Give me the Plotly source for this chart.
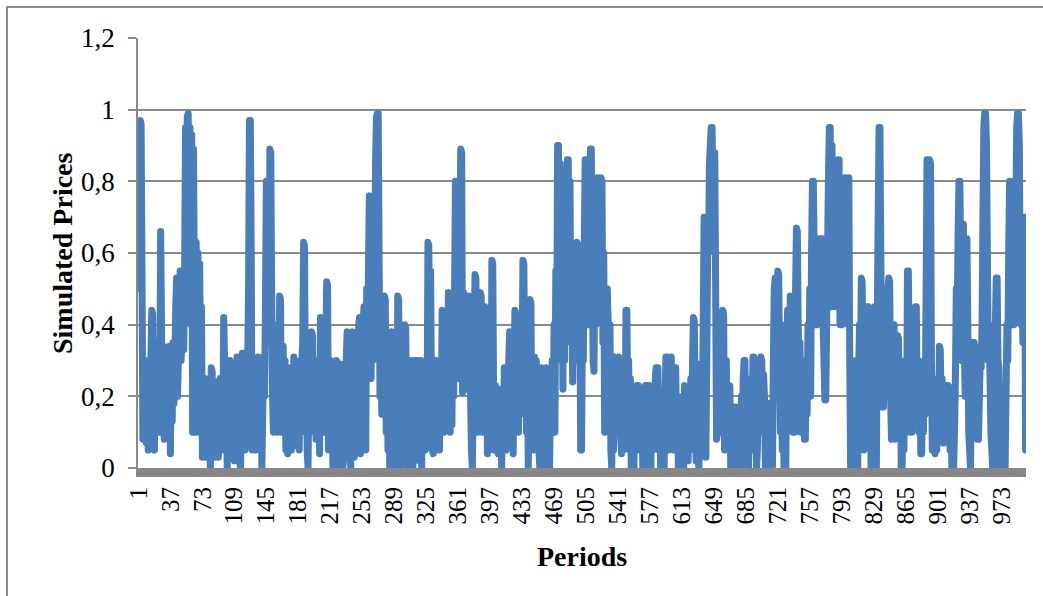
import plotly.graph_objects as go

# Simulated price path, one value per period (36 periods per row)
simulated_prices = [
    0.50, 0.78, 0.97, 0.96, 0.55, 0.08, 0.25, 0.10, 0.30, 0.07, 0.20, 0.05, 0.15, 0.06, 0.30, 0.44, 0.43, 0.20, 0.05, 0.30, 0.10, 0.35, 0.15, 0.10, 0.20, 0.66, 0.40, 0.10, 0.34, 0.08, 0.30, 0.12, 0.33, 0.10, 0.28, 0.34,
    0.04, 0.30, 0.13, 0.35, 0.18, 0.30, 0.45, 0.53, 0.20, 0.30, 0.32, 0.55, 0.30, 0.35, 0.52, 0.33, 0.55, 0.95, 0.50, 0.98, 0.99, 0.75, 0.95, 0.40, 0.93, 0.10, 0.89, 0.50, 0.10, 0.63, 0.30, 0.60, 0.10, 0.57, 0.20, 0.45,
    0.03, 0.20, 0.05, 0.25, 0.03, 0.18, 0.05, 0.22, 0.25, 0.00, 0.28, 0.27, 0.05, 0.20, 0.03, 0.24, 0.08, 0.20, 0.03, 0.22, 0.25, 0.05, 0.22, 0.10, 0.42, 0.30, 0.05, 0.15, 0.00, 0.28, 0.05, 0.30, 0.08, 0.28, 0.03, 0.20,
    0.02, 0.29, 0.05, 0.31, 0.25, 0.10, 0.02, 0.00, 0.22, 0.32, 0.08, 0.30, 0.05, 0.28, 0.10, 0.30, 0.50, 0.97, 0.97, 0.60, 0.05, 0.30, 0.06, 0.25, 0.05, 0.30, 0.10, 0.31, 0.20, 0.05, 0.30, 0.00, 0.15, 0.31, 0.20, 0.45,
    0.80, 0.50, 0.70, 0.35, 0.89, 0.88, 0.50, 0.20, 0.10, 0.30, 0.12, 0.40, 0.10, 0.35, 0.15, 0.48, 0.47, 0.10, 0.30, 0.34, 0.15, 0.30, 0.05, 0.25, 0.04, 0.28, 0.10, 0.25, 0.05, 0.20, 0.06, 0.31, 0.15, 0.30, 0.08, 0.20,
    0.25, 0.05, 0.28, 0.10, 0.30, 0.35, 0.63, 0.62, 0.20, 0.30, 0.05, 0.00, 0.25, 0.10, 0.30, 0.38, 0.37, 0.12, 0.30, 0.28, 0.08, 0.25, 0.10, 0.30, 0.04, 0.42, 0.40, 0.15, 0.30, 0.10, 0.28, 0.35, 0.52, 0.51, 0.05, 0.30,
    0.30, 0.05, 0.20, 0.00, 0.00, 0.25, 0.08, 0.30, 0.29, 0.00, 0.20, 0.05, 0.29, 0.28, 0.00, 0.02, 0.25, 0.10, 0.30, 0.38, 0.37, 0.10, 0.30, 0.00, 0.20, 0.38, 0.37, 0.03, 0.30, 0.05, 0.35, 0.10, 0.40, 0.42, 0.04, 0.35,
    0.10, 0.40, 0.45, 0.44, 0.05, 0.50, 0.30, 0.55, 0.76, 0.75, 0.25, 0.50, 0.30, 0.70, 0.40, 0.85, 0.98, 0.99, 0.99, 0.60, 0.20, 0.45, 0.15, 0.40, 0.20, 0.48, 0.47, 0.10, 0.35, 0.05, 0.30, 0.00, 0.25, 0.38, 0.30, 0.00,
    0.10, 0.00, 0.30, 0.10, 0.48, 0.47, 0.20, 0.30, 0.00, 0.25, 0.10, 0.30, 0.40, 0.39, 0.15, 0.25, 0.00, 0.20, 0.05, 0.30, 0.29, 0.00, 0.15, 0.30, 0.05, 0.28, 0.10, 0.30, 0.02, 0.25, 0.30, 0.00, 0.20, 0.05, 0.25, 0.05,
    0.30, 0.10, 0.63, 0.62, 0.30, 0.55, 0.20, 0.05, 0.04, 0.25, 0.10, 0.30, 0.28, 0.06, 0.20, 0.05, 0.30, 0.12, 0.44, 0.43, 0.10, 0.30, 0.15, 0.40, 0.12, 0.49, 0.48, 0.10, 0.35, 0.12, 0.45, 0.20, 0.50, 0.80, 0.78, 0.25,
    0.50, 0.25, 0.70, 0.89, 0.88, 0.21, 0.49, 0.25, 0.48, 0.30, 0.45, 0.22, 0.48, 0.30, 0.20, 0.05, 0.00, 0.20, 0.35, 0.54, 0.53, 0.20, 0.10, 0.40, 0.15, 0.49, 0.48, 0.10, 0.40, 0.20, 0.45, 0.10, 0.30, 0.04, 0.20, 0.05,
    0.30, 0.10, 0.58, 0.57, 0.20, 0.05, 0.23, 0.10, 0.20, 0.04, 0.22, 0.08, 0.18, 0.00, 0.15, 0.05, 0.28, 0.27, 0.05, 0.20, 0.10, 0.30, 0.38, 0.37, 0.10, 0.25, 0.04, 0.30, 0.44, 0.43, 0.20, 0.30, 0.10, 0.35, 0.15, 0.25,
    0.30, 0.58, 0.57, 0.25, 0.40, 0.10, 0.30, 0.00, 0.20, 0.47, 0.46, 0.10, 0.30, 0.05, 0.31, 0.15, 0.30, 0.10, 0.25, 0.05, 0.00, 0.20, 0.28, 0.10, 0.00, 0.25, 0.05, 0.28, 0.10, 0.27, 0.05, 0.00, 0.20, 0.10, 0.30, 0.12,
    0.40, 0.10, 0.55, 0.30, 0.90, 0.90, 0.60, 0.85, 0.40, 0.80, 0.22, 0.70, 0.30, 0.80, 0.40, 0.86, 0.86, 0.50, 0.80, 0.35, 0.60, 0.24, 0.50, 0.30, 0.55, 0.35, 0.63, 0.62, 0.30, 0.50, 0.05, 0.05, 0.40, 0.30, 0.60, 0.86,
    0.86, 0.50, 0.80, 0.40, 0.70, 0.89, 0.89, 0.55, 0.30, 0.27, 0.60, 0.40, 0.70, 0.81, 0.45, 0.80, 0.60, 0.81, 0.80, 0.35, 0.60, 0.10, 0.50, 0.20, 0.50, 0.40, 0.10, 0.40, 0.05, 0.00, 0.25, 0.05, 0.20, 0.31, 0.30, 0.10,
    0.25, 0.31, 0.30, 0.10, 0.04, 0.20, 0.05, 0.30, 0.10, 0.44, 0.44, 0.20, 0.30, 0.05, 0.25, 0.00, 0.15, 0.02, 0.00, 0.20, 0.05, 0.23, 0.10, 0.23, 0.05, 0.20, 0.10, 0.15, 0.00, 0.00, 0.20, 0.23, 0.05, 0.22, 0.10, 0.23,
    0.05, 0.00, 0.15, 0.05, 0.20, 0.08, 0.25, 0.28, 0.10, 0.28, 0.05, 0.20, 0.00, 0.00, 0.15, 0.05, 0.00, 0.20, 0.31, 0.10, 0.31, 0.05, 0.30, 0.15, 0.31, 0.10, 0.20, 0.05, 0.28, 0.28, 0.10, 0.20, 0.00, 0.15, 0.00, 0.05,
    0.05, 0.20, 0.00, 0.23, 0.22, 0.05, 0.20, 0.02, 0.15, 0.05, 0.25, 0.10, 0.30, 0.42, 0.41, 0.20, 0.02, 0.02, 0.15, 0.00, 0.05, 0.29, 0.20, 0.10, 0.40, 0.70, 0.69, 0.03, 0.30, 0.60, 0.60, 0.85, 0.90, 0.95, 0.95, 0.70,
    0.88, 0.88, 0.50, 0.08, 0.10, 0.30, 0.20, 0.35, 0.10, 0.30, 0.44, 0.43, 0.05, 0.05, 0.30, 0.10, 0.23, 0.22, 0.23, 0.00, 0.10, 0.00, 0.15, 0.02, 0.17, 0.00, 0.12, 0.05, 0.17, 0.17, 0.00, 0.20, 0.05, 0.25, 0.30, 0.30,
    0.10, 0.20, 0.00, 0.00, 0.20, 0.10, 0.25, 0.05, 0.31, 0.31, 0.10, 0.20, 0.00, 0.05, 0.25, 0.10, 0.28, 0.31, 0.30, 0.10, 0.26, 0.20, 0.00, 0.05, 0.15, 0.02, 0.18, 0.00, 0.18, 0.05, 0.00, 0.30, 0.50, 0.53, 0.52, 0.20,
    0.55, 0.54, 0.30, 0.10, 0.40, 0.05, 0.20, 0.00, 0.10, 0.00, 0.30, 0.44, 0.43, 0.20, 0.48, 0.47, 0.30, 0.10, 0.35, 0.10, 0.50, 0.67, 0.66, 0.40, 0.20, 0.35, 0.10, 0.30, 0.12, 0.25, 0.08, 0.08, 0.30, 0.15, 0.40, 0.25,
    0.50, 0.20, 0.60, 0.80, 0.80, 0.60, 0.40, 0.55, 0.40, 0.50, 0.42, 0.64, 0.64, 0.55, 0.64, 0.40, 0.30, 0.19, 0.19, 0.40, 0.60, 0.80, 0.95, 0.95, 0.45, 0.90, 0.60, 0.80, 0.45, 0.70, 0.50, 0.70, 0.86, 0.86, 0.40, 0.60,
    0.40, 0.70, 0.45, 0.60, 0.81, 0.81, 0.50, 0.40, 0.81, 0.30, 0.00, 0.20, 0.00, 0.25, 0.05, 0.00, 0.30, 0.10, 0.00, 0.25, 0.40, 0.20, 0.53, 0.52, 0.30, 0.05, 0.30, 0.45, 0.44, 0.10, 0.45, 0.20, 0.40, 0.00, 0.00, 0.30,
    0.20, 0.45, 0.10, 0.00, 0.40, 0.70, 0.95, 0.95, 0.60, 0.30, 0.17, 0.17, 0.40, 0.30, 0.45, 0.20, 0.50, 0.53, 0.52, 0.20, 0.08, 0.35, 0.10, 0.40, 0.08, 0.37, 0.15, 0.37, 0.36, 0.10, 0.30, 0.00, 0.00, 0.20, 0.05, 0.25,
    0.30, 0.10, 0.55, 0.55, 0.30, 0.40, 0.10, 0.10, 0.35, 0.20, 0.40, 0.45, 0.45, 0.15, 0.30, 0.10, 0.25, 0.04, 0.04, 0.20, 0.10, 0.30, 0.15, 0.50, 0.86, 0.86, 0.60, 0.86, 0.85, 0.30, 0.05, 0.20, 0.10, 0.04, 0.15, 0.05,
    0.25, 0.10, 0.34, 0.33, 0.15, 0.25, 0.07, 0.07, 0.20, 0.10, 0.23, 0.15, 0.23, 0.22, 0.05, 0.15, 0.00, 0.05, 0.00, 0.10, 0.25, 0.50, 0.40, 0.65, 0.80, 0.80, 0.60, 0.30, 0.68, 0.68, 0.35, 0.20, 0.64, 0.64, 0.40, 0.10,
    0.05, 0.00, 0.20, 0.35, 0.30, 0.35, 0.15, 0.34, 0.20, 0.08, 0.08, 0.20, 0.30, 0.28, 0.40, 0.70, 0.95, 0.99, 0.99, 0.90, 0.60, 0.30, 0.40, 0.25, 0.10, 0.05, 0.00, 0.00, 0.20, 0.40, 0.53, 0.53, 0.30, 0.28, 0.10, 0.00,
    0.05, 0.00, 0.00, 0.10, 0.00, 0.20, 0.40, 0.30, 0.60, 0.80, 0.80, 0.50, 0.40, 0.55, 0.40, 0.42, 0.70, 0.95, 0.99, 0.99, 0.90, 0.50, 0.40, 0.60, 0.35, 0.50, 0.70, 0.05,
]

periods = list(range(1, len(simulated_prices) + 1))

x_tick_values = [1, 37, 73, 109, 145, 181, 217, 253, 289, 325, 361, 397, 433, 469,
                 505, 541, 577, 613, 649, 685, 721, 757, 793, 829, 865, 901, 937, 973]
x_tick_labels = [str(v) for v in x_tick_values]

y_tick_values = [0, 0.2, 0.4, 0.6, 0.8, 1.0, 1.2]
y_tick_labels = ["0", "0,2", "0,4", "0,6", "0,8", "1", "1,2"]

SERIF = "Liberation Serif"
GRID = "#8a8a8a"

fig = go.Figure(
    go.Scatter(
        x=periods,
        y=simulated_prices,
        mode="lines",
        line=dict(color="#4a7ebb", width=7, simplify=False),
        hoverinfo="skip",
        showlegend=False,
    )
)

fig.update_layout(
    width=1043,
    height=596,
    margin=dict(l=138, r=17, t=38, b=128),
    paper_bgcolor="white",
    plot_bgcolor="white",
    font=dict(family=SERIF, color="black"),
    xaxis=dict(
        range=[0.5, len(simulated_prices) + 0.5],
        tickmode="array",
        tickvals=x_tick_values,
        ticktext=x_tick_labels,
        tickangle=-90,
        tickfont=dict(family=SERIF, size=25, color="black"),
        showgrid=False,
        zeroline=False,
        showline=True,
        linecolor="#878787",
        linewidth=9,
        ticks="",
    ),
    yaxis=dict(
        range=[0, 1.2],
        tickmode="array",
        tickvals=y_tick_values,
        ticktext=y_tick_labels,
        tickfont=dict(family=SERIF, size=27, color="black"),
        ticklabelstandoff=8,
        showgrid=True,
        gridcolor=GRID,
        gridwidth=1.5,
        zeroline=False,
        showline=True,
        linecolor=GRID,
        linewidth=1.5,
        ticks="outside",
        ticklen=8,
        tickwidth=1.5,
        tickcolor=GRID,
    ),
    annotations=[
        dict(
            text="<b>Periods</b>",
            xref="paper", yref="paper",
            x=0.5, y=0,
            xanchor="center", yanchor="middle",
            yshift=-88,
            showarrow=False,
            font=dict(family=SERIF, size=28, color="black"),
        ),
        dict(
            text="<b>Simulated Prices</b>",
            xref="paper", yref="paper",
            x=0, y=0.5,
            xanchor="center", yanchor="middle",
            xshift=-76,
            textangle=-90,
            showarrow=False,
            font=dict(family=SERIF, size=28, color="black"),
        ),
    ],
    shapes=[
        # chart frame (right and bottom edges run past the page)
        dict(
            type="rect",
            xref="paper", yref="paper",
            x0=-0.1475, x1=1.2, y0=-0.5, y1=1.072,
            line=dict(color="#8a8a8a", width=2),
            fillcolor="rgba(0,0,0,0)",
            layer="below",
        )
    ],
)

round_joins = (
    "var s=document.createElement('style');"
    "s.innerHTML='.scatterlayer .js-line{stroke-linejoin:round;stroke-linecap:round;}';"
    "document.head.appendChild(s);"
)

fig.write_html("out.html", post_script=round_joins)
